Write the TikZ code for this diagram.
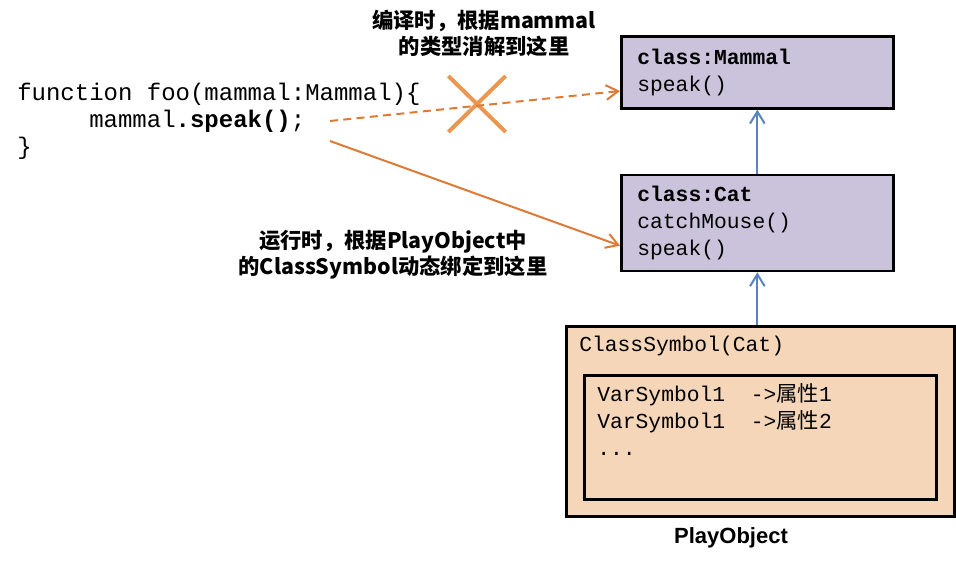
\documentclass[tikz,border=0pt]{standalone}
\usepackage{fontspec}
\setmainfont{Liberation Sans}
\setmonofont{Liberation Mono}
\newfontfamily\cjk{Noto Sans CJK SC}
\usetikzlibrary{arrows.meta,positioning,shapes.misc}
\definecolor{clsfill}{RGB}{203,195,219}
\definecolor{objfill}{RGB}{246,214,185}
\definecolor{bindorange}{RGB}{222,121,54}
\definecolor{crossorange}{RGB}{236,150,80}
\definecolor{inhblue}{RGB}{88,131,193}

\begin{document}
\begin{tikzpicture}[x=0.75pt, y=-0.75pt, cls/.style={draw, line width=2pt, fill=clsfill, text width=180pt, inner xsep=12pt, align=left, font=\ttfamily\fontsize{16}{20.25}\selectfont}, objbox/.style={draw, line width=2pt, fill=objfill, inner sep=0pt}, mono/.style={font=\ttfamily\fontsize{16}{20.25}\selectfont, align=left, inner sep=0pt}, note/.style={font=\cjk\bfseries\fontsize{16}{19.5}\selectfont, align=center, inner sep=0pt}, inh/.style={draw=inhblue, line width=1.5pt, -{Straight Barb[length=9pt, width=11pt]}}, bind/.style={draw=bindorange, line width=1.5pt, -{Straight Barb[length=9pt, width=11pt]}}]
\useasboundingbox (0,0) rectangle (956,566);
% class boxes
\node[cls, minimum height=54pt, anchor=north west] (mammal) at (620,35) {\textbf{class:Mammal}\\speak()};
\node[cls, minimum height=72pt, below=48pt of mammal] (cat) {\textbf{class:Cat}\\catchMouse()\\speak()};
% the object and its symbols
\node[objbox, minimum width=291pt, minimum height=142.5pt, anchor=north west] (obj) at (565,325) {};
\node[mono, anchor=west] (clssym) at (579,346) {ClassSymbol(Cat)};
\node[objbox, minimum width=264pt, minimum height=93pt, anchor=north west] (vars) at (583,374) {};
\node[mono, anchor=west] (varlist) at (597,420) {VarSymbol1\ \ ->{\cjk 属性}1\\VarSymbol1\ \ ->{\cjk 属性}2\\...};
\node[note, font=\bfseries\fontsize{16.5}{19.5}\selectfont] (objlabel) at (731,538) {PlayObject};
% the call site
\node[mono, font=\ttfamily\fontsize{18}{20.25}\selectfont, anchor=west] (code) at (17,121) {function foo(mammal:Mammal)\{\\\hphantom{xxxxx}mammal\textbf{.speak()};\\\}};
\coordinate (callA) at (330,121);
\coordinate (callB) at (330,141);
\node[note] (compile) at (484,33) {编译时，根据mammal\\的类型消解到这里};
\node[note] (runtime) at (393,255) {运行时，根据PlayObject中\\的ClassSymbol动态绑定到这里};
\node[draw=crossorange, line width=3pt, cross out, minimum width=40pt, minimum height=39pt, inner sep=0pt] (nope) at (477,104) {};
% connectors
\draw[bind, dash pattern=on 6pt off 4pt] (callA) -- ([yshift=-14pt]mammal.west);
\draw[bind] (callB) -- ([yshift=-17pt]cat.west);
\draw[inh] (cat) -- (mammal);
\draw[inh] (obj.north -| cat.south) -- (cat.south);
\end{tikzpicture}
\end{document}
